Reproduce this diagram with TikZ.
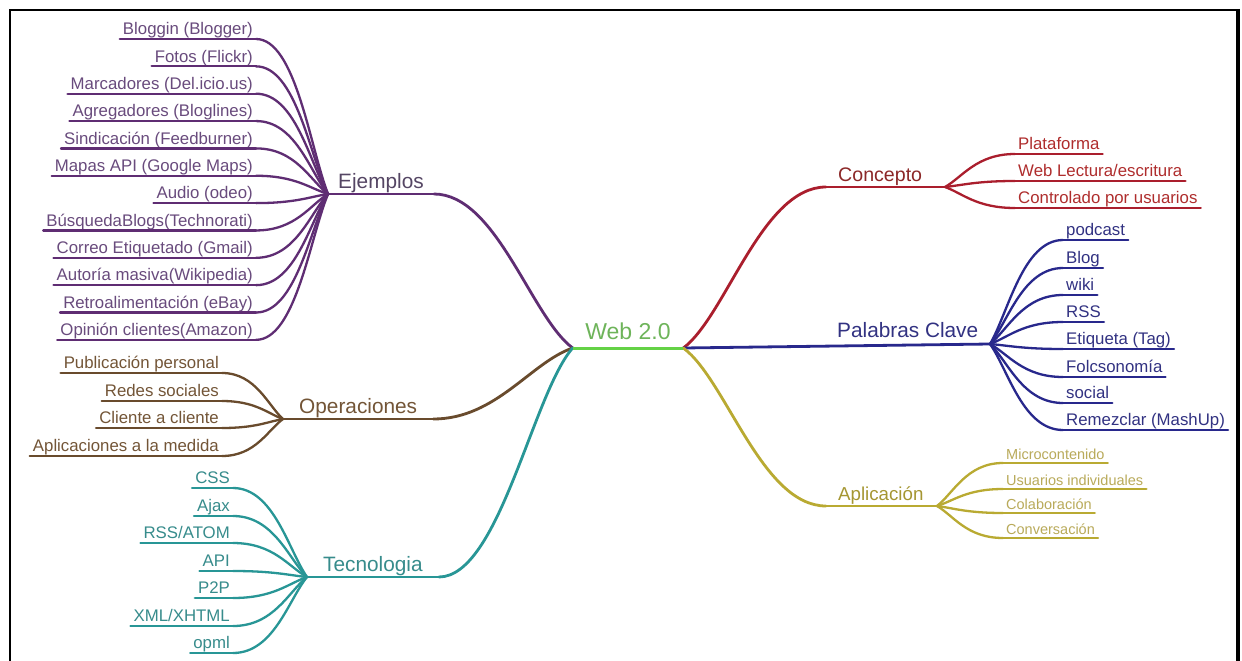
\documentclass[tikz,border=0pt]{standalone}
\usepackage{fontspec}
\setmainfont{Liberation Sans}
\usetikzlibrary{calc}
\definecolor{ejline}{RGB}{95,45,115}
\definecolor{ejtext}{RGB}{105,75,125}
\definecolor{ejlab}{RGB}{85,70,100}
\definecolor{opline}{RGB}{105,75,45}
\definecolor{optext}{RGB}{115,85,55}
\definecolor{teline}{RGB}{40,150,150}
\definecolor{tetext}{RGB}{55,140,140}
\definecolor{webline}{RGB}{100,210,70}
\definecolor{webtext}{RGB}{110,180,90}
\definecolor{coline}{RGB}{170,30,45}
\definecolor{colab}{RGB}{140,40,40}
\definecolor{cotext}{RGB}{175,45,45}
\definecolor{paline}{RGB}{40,40,140}
\definecolor{patext}{RGB}{50,50,130}
\definecolor{apline}{RGB}{185,170,50}
\definecolor{aplab}{RGB}{165,150,50}
\definecolor{aptext}{RGB}{185,170,90}
\newcommand\conn[6]{%
  \draw[#1] let \p1=(#5), \p2=(#6) in (\p1) .. controls ({\x1+#2*(\x2-\x1)},\y1) and ({\x2-#3*(\x2-\x1)},{\y2+#4*(\y1-\y2)}) .. (\p2);}
\tikzset{
  kid/.style={inner xsep=3pt, inner ysep=0pt, text height=12.5pt, text depth=4pt, font=\fontsize{16.8}{18}\selectfont},
  kidL/.style={kid, anchor=south east},
  kidR/.style={kid, anchor=south west},
  smallkid/.style={kidR, font=\fontsize{14.5}{16}\selectfont, text height=11pt, text depth=3.5pt},
  lvl/.style={inner ysep=0pt, text height=15pt, text depth=5pt, font=\fontsize{20.8}{23}\selectfont},
  kline/.style={line width=2.3pt, line cap=round, line join=round},
  mline/.style={line width=2.8pt, line cap=round, line join=round},
}
\begin{document}
\begin{tikzpicture}[x=1pt,y=-1pt]
\useasboundingbox (0,0) rectangle (1242,661);
\fill[white] (0,0) rectangle (1242,661);
% frame
\draw[line width=2.5pt] (10,661) -- (10,10) -- (1237,10);
\draw[line width=4pt] (1238,9) -- (1238,661);

% centre
\node[anchor=south, font=\fontsize{23}{25}\selectfont, text=webtext, inner xsep=12.5pt, inner ysep=0pt, text height=16.5pt, text depth=8pt] (web) at (628,348) {Web 2.0};

% ---- Ejemplos
\coordinate (ejH) at (328,194);
\node[lvl, anchor=south west, inner xsep=10pt, text=ejlab] (ej) at (ejH) {Ejemplos};
\foreach \t [count=\i from 0] in {{Bloggin (Blogger)},{Fotos (Flickr)},{Marcadores (Del.icio.us)},{Agregadores (Bloglines)},{Sindicación (Feedburner)},{Mapas API (Google Maps)},{Audio (odeo)},{BúsquedaBlogs(Technorati)},{Correo Etiquetado (Gmail)},{Autoría masiva(Wikipedia)},{Retroalimentación (eBay)},{Opinión clientes(Amazon)}}{
  \node[kidL, text=ejtext] (ej\i) at (256,{39+27.35*\i}) {\t};
  \draw[kline, ejline] (ej\i.south west) -- (ej\i.south east);
  \conn{kline,ejline}{0.55}{0.25}{0.3}{ej\i.south east}{ejH}
}
\draw[mline, ejline] (ej.south west) -- (ej.south east);
\conn{mline,ejline}{0.45}{0.3}{0.2}{ej.south east}{web.south west}

% ---- Operaciones
\coordinate (opH) at (283,419);
\node[lvl, anchor=south west, inner xsep=16pt, text=optext] (op) at (opH) {Operaciones};
\foreach \t/\y [count=\i] in {{Publicación personal}/373,{Redes sociales}/401,{Cliente a cliente}/428,{Aplicaciones a la medida}/456}{
  \node[kidL, text=optext] (op\i) at (222,\y) {\t};
  \draw[kline, opline] (op\i.south west) -- (op\i.south east);
  \conn{kline,opline}{0.55}{0.25}{0.3}{op\i.south east}{opH}
}
\draw[mline, opline] (op.south west) -- (op.south east);
\conn{mline,opline}{0.45}{0.3}{0.2}{op.south east}{web.south west}

% ---- Tecnologia
\coordinate (teH) at (307,577);
\node[lvl, anchor=south west, inner xsep=16pt, text=tetext] (te) at (teH) {Tecnologia};
\foreach \t/\y [count=\i] in {{CSS}/488,{Ajax}/516,{RSS/ATOM}/543,{API}/571,{P2P}/598,{XML/XHTML}/626,{opml}/653}{
  \node[kidL, text=tetext] (te\i) at (233,\y) {\t};
  \draw[kline, teline] (te\i.south west) -- (te\i.south east);
  \conn{kline,teline}{0.55}{0.25}{0.3}{te\i.south east}{teH}
}
\draw[mline, teline] (te.south west) -- (te.south east);
\conn{mline,teline}{0.45}{0.3}{0.2}{te.south east}{web.south west}

% ---- Concepto
\coordinate (coH) at (945,187);
\node[lvl, anchor=south west, inner xsep=12pt, text=colab, font=\fontsize{19.6}{22}\selectfont] (co) at (826,187) {Concepto};
\foreach \t/\y [count=\i] in {{Plataforma}/154,{Web Lectura/escritura}/181,{Controlado por usuarios}/208}{
  \node[kidR, text=cotext] (co\i) at (1015,\y) {\t};
  \draw[kline, coline] (co\i.south west) -- (co\i.south east);
  \conn{kline,coline}{0.55}{0.25}{0.3}{co\i.south west}{coH}
}
\draw[mline, coline] (co.south west) -- (coH);
\conn{mline,coline}{0.45}{0.3}{0.2}{co.south west}{web.south east}

% ---- Palabras Clave
\coordinate (paH) at (990,344);
\node[lvl, anchor=south west, inner xsep=12pt, text=patext, text depth=6pt] (pa) at (825,344) {Palabras Clave};
\foreach \t/\y [count=\i] in {{podcast}/240,{Blog}/268,{wiki}/295,{RSS}/322,{Etiqueta (Tag)}/349,{Folcsonomía}/377,{social}/403,{Remezclar (MashUp)}/430}{
  \node[kidR, text=patext] (pa\i) at (1063,\y) {\t};
  \draw[kline, paline] (pa\i.south west) -- (pa\i.south east);
  \conn{kline,paline}{0.55}{0.25}{0.3}{pa\i.south west}{paH}
}
\draw[mline, paline] (web.south east) -- (paH);

% ---- Aplicación
\coordinate (apH) at (937,506);
\node[lvl, anchor=south west, inner xsep=12pt, text=aplab, font=\fontsize{18.7}{21}\selectfont] (ap) at (826,506) {Aplicación};
\foreach \t/\y [count=\i] in {{Microcontenido}/463,{Usuarios individuales}/489,{Colaboración}/513,{Conversación}/538}{
  \node[smallkid, text=aptext] (ap\i) at (1003,\y) {\t};
  \draw[kline, apline] (ap\i.south west) -- (ap\i.south east);
  \conn{kline,apline}{0.55}{0.25}{0.3}{ap\i.south west}{apH}
}
\draw[mline, apline] (ap.south west) -- (apH);
\conn{mline,apline}{0.45}{0.3}{0.2}{ap.south west}{web.south east}

% centre underline on top
\draw[line width=3pt, webline] (web.south west) -- (web.south east);
\end{tikzpicture}
\end{document}
